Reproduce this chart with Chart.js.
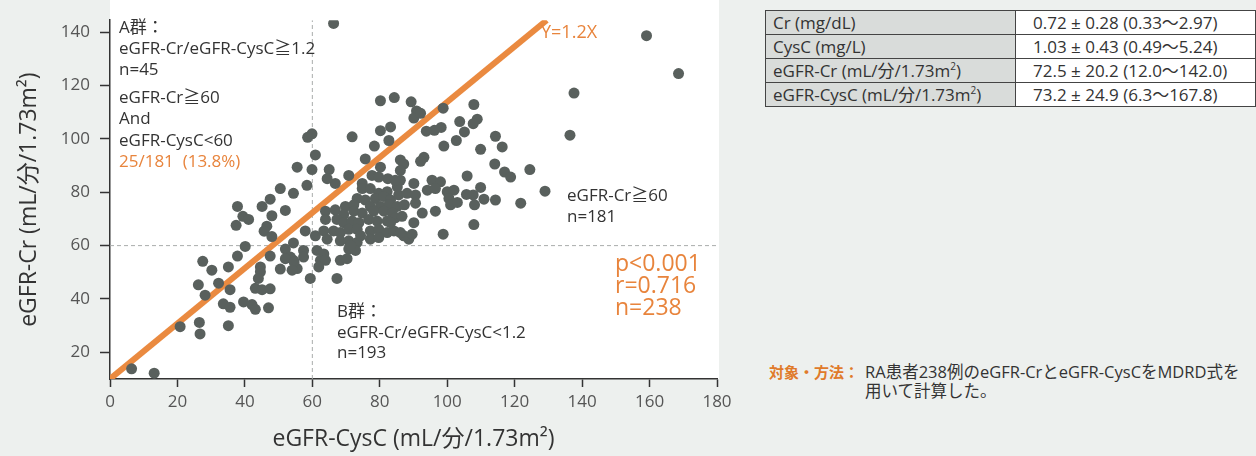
<!DOCTYPE html>
<html>
<head>
<meta charset="utf-8">
<script src="https://cdn.jsdelivr.net/npm/chart.js@4.4.0/dist/chart.umd.min.js"></script>
<style>
  body { margin: 0; width: 1256px; height: 456px; overflow: hidden; position: relative;
         background: #edf0ee; font-family: 'Open Sans', 'Noto Sans CJK JP', sans-serif; color: #333; }
  #wrap { position: absolute; left: 0; top: 0; width: 760px; height: 456px; }
  table { position: absolute; left: 765px; top: 10px; border-collapse: collapse; font-size: 17px;
          color: #333; border: 1.5px solid #333; }
  td { border: 1px solid #444; height: 23px; line-height: 23px; padding: 0 0 0 7px; white-space: nowrap; }
  td.k { background: #d9dcda; width: 242px; }
  td.v { background: #fff; width: 222px; padding-left: 17px; }
  sup { font-size: 10px; line-height: 0; vertical-align: 7px; }
  .note { position: absolute; left: 769px; top: 362px; font-size: 16.5px; line-height: 19px; }
  .note b { color: #e07a2a; font-family: 'Noto Sans CJK JP', sans-serif; font-size: 15px; }
  .note span { display: inline-block; vertical-align: top; }
</style>
</head>
<body>
<div id="wrap"><canvas id="c" width="760" height="456"></canvas></div>
<table id="tbl"></table>
<div class="note"><span><b>対象・方法：</b></span><span style="margin-left:6px">RA患者238例のeGFR-CrとeGFR-CysCをMDRD式を<br>用いて計算した。</span></div>
<script>
// eGFR-CysC (x) and eGFR-Cr (y) for each patient
const cysC = [
  66.3, 159.1, 168.6, 137.6, 136.4, 129.0, 124.5, 121.8, 114.3, 116.3, 109.9, 114.1, 117.0, 118.8, 105.9,
  109.9, 110.9, 107.7, 105.7, 108.1, 107.9, 98.8, 107.9, 108.9, 107.7, 103.7, 105.1, 102.7, 99.0, 98.2,
  96.2, 93.8, 93.1, 80.2, 84.3, 89.3, 90.9, 90.1, 92.1, 80.2, 83.2, 82.7, 78.4, 71.8, 59.9,
  58.6, 60.9, 65.0, 59.9, 58.4, 66.8, 55.5, 50.5, 54.4, 75.7, 80.2, 77.7, 82.4, 86.1, 87.1,
  86.1, 86.1, 90.1, 95.5, 98.0, 94.1, 100.0, 102.0, 96.5, 74.8, 85.2, 92.1,
  64.4, 70.8, 79.7, 84.6, 74.8, 77.2, 79.7, 82.2, 73.3, 75.7, 78.7, 81.2, 83.2, 69.8, 72.3,
  77.2, 80.2, 82.7, 85.2, 63.9, 66.8, 69.3, 72.3, 74.8, 78.2, 81.2, 83.7, 63.9, 67.3, 69.3,
  71.8, 73.8, 76.7, 79.2, 82.2, 84.6, 57.9, 60.9, 63.4, 66.3, 68.3, 70.8, 73.3, 77.2, 79.7,
  82.2, 84.2, 64.4, 68.3, 70.8, 73.3, 77.2, 79.7, 70.8, 72.8, 57.4, 61.4, 63.4, 54.4, 57.4,
  62.4, 63.9, 68.3, 55.5, 61.9, 59.4, 67.3, 70.3, 71.3, 74.3, 88.6, 87.1, 89.6, 98.8, 86.1, 54.4,
  96.5, 85.6, 88.1, 90.6, 87.3, 90.6, 86.6, 92.6, 90.1, 100.5, 101.0, 103.0, 114.3, 83.2,
  37.8, 45.1, 47.5, 39.4, 41.1, 48.0, 52.0, 37.4, 46.5, 45.7, 48.0, 52.0, 53.5, 52.0, 54.6,
  50.5, 54.0, 40.1, 37.8, 47.5, 27.5, 30.2, 35.1, 44.6, 44.6, 44.0, 26.2, 32.2, 35.6, 43.1,
  45.1, 47.5, 28.2, 33.6, 35.6, 39.6, 42.1, 43.1, 47.0, 20.8, 26.5, 35.1, 26.7, 6.4, 13.1
];
const cr = [
  143.3, 138.7, 124.5, 117.2, 101.4, 80.4, 88.5, 75.9, 101.0, 97.0, 96.1, 90.6, 87.6, 85.7, 86.1,
  81.8, 77.4, 79.0, 79.2, 75.3, 67.9, 111.5, 112.9, 107.4, 105.7, 106.5, 102.6, 99.4, 97.3, 104.3,
  103.2, 102.9, 93.1, 114.3, 115.5, 113.9, 110.5, 107.8, 109.6, 103.1, 104.5, 99.4, 97.3, 100.8, 101.9,
  100.6, 94.0, 88.5, 88.5, 82.6, 83.3, 89.4, 81.4, 79.6, 92.5, 89.4, 86.3, 85.1, 92.1, 90.6,
  88.2, 84.5, 83.3, 84.5, 83.9, 80.8, 80.2, 80.8, 72.9, 83.3, 82.0, 91.6,
  85.1, 86.3, 85.7, 84.5, 81.4, 81.4, 79.6, 80.2, 77.7, 77.1, 77.7, 78.4, 77.1, 74.7, 75.3,
  74.7, 74.7, 75.3, 74.7, 72.9, 73.4, 71.6, 72.9, 72.2, 72.9, 72.9, 72.2, 69.8, 69.8, 68.6,
  69.2, 68.6, 69.8, 69.2, 69.2, 70.4, 65.5, 63.7, 65.5, 65.5, 64.9, 66.1, 66.1, 65.5, 66.1,
  64.9, 65.5, 62.4, 61.8, 61.8, 61.2, 62.4, 63.0, 58.7, 58.2, 58.2, 58.2, 56.9, 54.5, 55.7,
  54.5, 54.5, 54.5, 51.4, 52.0, 47.7, 47.7, 55.1, 60.0, 63.7, 62.4, 63.7, 64.3, 64.3, 64.9, 61.0,
  81.4, 79.0, 79.6, 79.0, 75.3, 75.9, 71.0, 72.2, 68.6, 77.7, 75.3, 76.2, 77.1, 68.6,
  74.7, 74.7, 77.4, 71.0, 69.8, 71.2, 73.2, 67.6, 67.3, 65.4, 63.4, 58.7, 55.7, 55.1, 53.9,
  51.2, 50.8, 59.7, 56.1, 56.1, 54.1, 50.8, 52.0, 52.0, 50.2, 47.7, 45.3, 45.9, 43.5, 44.0,
  43.5, 43.8, 41.4, 38.2, 36.9, 38.9, 37.9, 36.1, 36.7, 29.6, 31.2, 30.0, 26.9, 13.8, 12.2
];

const xTicks = [0, 20, 40, 60, 80, 100, 120, 140, 160, 180];
const yTicks = [20, 40, 60, 80, 100, 120, 140];
const xRange = [0, 180];
const yRange = [10, 144.5];
const cutoff = 60;

// drawn "Y=1.2X" line as it sits in the figure
const lineCysC = [0, 129.5];
const lineCr = [10, 144.5];

const tableRows = [
  ['Cr (mg/dL)', '0.72 ± 0.28 (0.33〜2.97)'],
  ['CysC (mg/L)', '1.03 ± 0.43 (0.49〜5.24)'],
  ['eGFR-Cr (mL/分/1.73m<sup>2</sup>)', '72.5 ± 20.2 (12.0〜142.0)'],
  ['eGFR-CysC (mL/分/1.73m<sup>2</sup>)', '73.2 ± 24.9 (6.3〜167.8)']
];

document.getElementById('tbl').innerHTML = tableRows
  .map(r => `<tr><td class="k">${r[0]}</td><td class="v">${r[1]}</td></tr>`).join('');

const FONT = "'Open Sans', 'Noto Sans CJK JP', sans-serif";
const ORANGE = '#e8843c';
const DARK = '#333';

// white plot panel behind the data
const panel = {
  id: 'panel',
  beforeDraw(chart) {
    const { ctx, chartArea } = chart;
    ctx.save();
    ctx.fillStyle = '#fff';
    ctx.fillRect(chartArea.left, 0, chartArea.right + 2 - chartArea.left, chartArea.bottom);
    ctx.restore();
  }
};

// free text labels inside the plot
const notes = {
  id: 'notes',
  afterDatasetsDraw(chart) {
    const ctx = chart.ctx;
    ctx.save();
    ctx.textBaseline = 'middle';
    ctx.textAlign = 'left';
    const put = (t, x, y, size, color) => {
      ctx.font = `${size}px ${FONT}`;
      ctx.fillStyle = color;
      ctx.fillText(t, x, y);
    };
    put('A群：', 119, 28, 17, DARK);
    put('eGFR-Cr/eGFR-CysC≧1.2', 119, 49, 17, DARK);
    put('n=45', 119, 70, 17, DARK);
    put('eGFR-Cr≧60', 119, 98, 17, DARK);
    put('And', 119, 119, 17, DARK);
    put('eGFR-CysC<60', 119, 141, 17, DARK);
    put('25/181  (13.8%)', 119, 162, 17, ORANGE);
    put('Y=1.2X', 541, 33, 18, ORANGE);
    put('eGFR-Cr≧60', 567, 196, 17, DARK);
    put('n=181', 567, 217, 17, DARK);
    put('p<0.001', 615, 264, 23, ORANGE);
    put('r=0.716', 615, 286, 23, ORANGE);
    put('n=238', 615, 308, 23, ORANGE);
    put('B群：', 337, 312, 17, DARK);
    put('eGFR-Cr/eGFR-CysC<1.2', 337, 333, 17, DARK);
    put('n=193', 337, 353, 17, DARK);
    ctx.restore();
  }
};

const dashed = { borderColor: '#a9acab', borderWidth: 1, borderDash: [4, 3], showLine: true,
                 pointRadius: 0, fill: false };

new Chart(document.getElementById('c'), {
  type: 'scatter',
  data: {
    datasets: [
      {
        data: cysC.map((x, i) => ({ x, y: cr[i] })),
        backgroundColor: '#59605d',
        borderWidth: 0,
        pointRadius: 5.5,
        order: 0
      },
      {
        data: lineCysC.map((x, i) => ({ x, y: lineCr[i] })),
        borderColor: '#ea8a40',
        borderWidth: 6,
        showLine: true,
        pointRadius: 0,
        order: 1
      },
      Object.assign({ data: [{ x: cutoff, y: yRange[0] }, { x: cutoff, y: yRange[1] }], order: 2 }, dashed),
      Object.assign({ data: [{ x: xRange[0], y: cutoff }, { x: xRange[1], y: cutoff }], order: 3 }, dashed)
    ]
  },
  options: {
    responsive: false,
    animation: false,
    maintainAspectRatio: false,
    layout: { padding: { left: 0, right: 43, top: 13, bottom: 0 } },
    plugins: { legend: { display: false }, tooltip: { enabled: false } },
    scales: {
      x: {
        type: 'linear',
        min: xRange[0],
        max: xRange[1],
        afterBuildTicks: s => { s.ticks = xTicks.map(v => ({ value: v })); },
        afterFit: s => { s.height = 77; },
        grid: { drawOnChartArea: false, drawTicks: true, tickLength: 8, tickColor: '#333', tickWidth: 1.5 },
        border: { color: '#333', width: 1.5 },
        ticks: { color: '#555', padding: 5, font: { family: FONT, size: 17 } },
        title: { display: true, text: 'eGFR-CysC (mL/分/1.73m²)', color: DARK,
                 font: { family: FONT, size: 23 }, padding: { top: 0, bottom: 3 } }
      },
      y: {
        type: 'linear',
        min: yRange[0],
        max: yRange[1],
        afterBuildTicks: s => { s.ticks = yTicks.map(v => ({ value: v })); },
        afterFit: s => { s.width = 110; },
        grid: { drawOnChartArea: false, drawTicks: true, tickLength: 10, tickColor: '#333', tickWidth: 1.5 },
        border: { color: '#333', width: 1.5 },
        ticks: { color: '#555', padding: 10, font: { family: FONT, size: 17 } },
        title: { display: true, text: 'eGFR-Cr (mL/分/1.73m²)', color: DARK,
                 font: { family: FONT, size: 23 }, padding: { top: 16, bottom: 0 } }
      }
    }
  },
  plugins: [panel, notes]
});
</script>
</body>
</html>
